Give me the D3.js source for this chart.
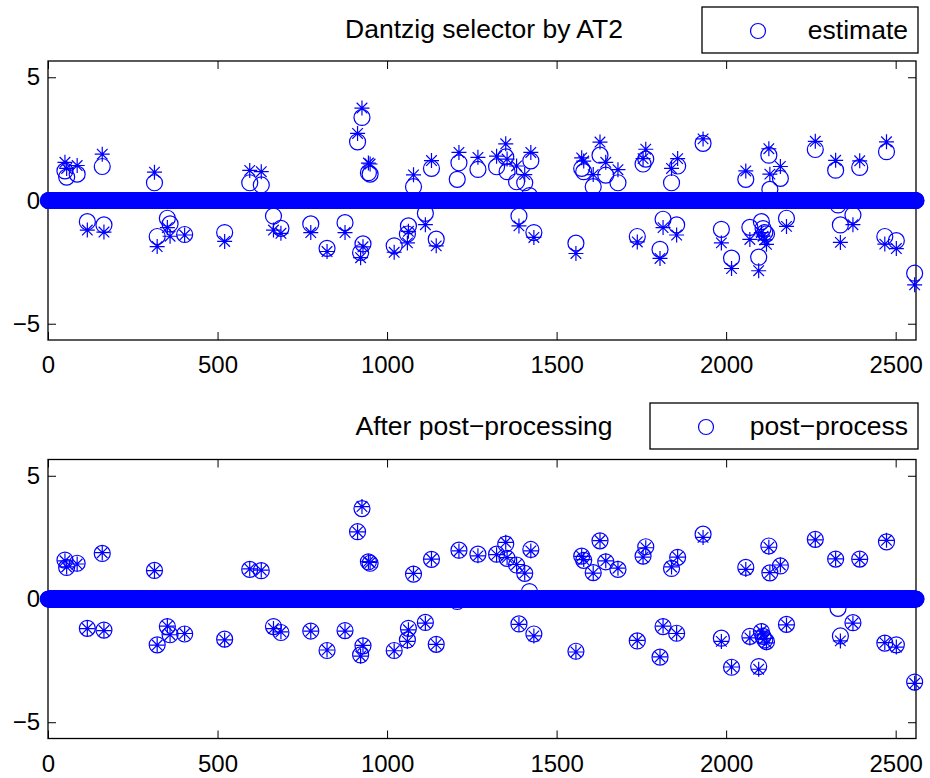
<!DOCTYPE html>
<html>
<head>
<meta charset="utf-8">
<script src="https://d3js.org/d3.v7.min.js"></script>
<style>
body { margin: 0; background: #fff; }
text { font-family: "Liberation Sans", Arial, Helvetica, sans-serif; fill: #000; }
</style>
</head>
<body>
<script>

// signal length (samples are 1..N)
var N = 2560;

// positions of the nonzero entries (true signal and/or estimates)
var support  = [50, 55, 86, 116, 160, 165, 314, 322, 352, 360, 403, 521, 595, 629, 665, 687, 775, 823, 876,
                913, 922, 926, 929, 945, 950, 1021, 1060, 1063, 1078, 1113, 1131, 1145, 1207, 1212, 1268,
                1323, 1350, 1354, 1382, 1389, 1406, 1420, 1424, 1433, 1557, 1574, 1580, 1608, 1628, 1645,
                1681, 1738, 1755, 1763, 1805, 1814, 1839, 1854, 1857, 1932, 1986, 2016, 2058, 2070, 2096,
                2104, 2109, 2114, 2119, 2126, 2129, 2160, 2178, 2263, 2323, 2330, 2337, 2374, 2394, 2468,
                2473, 2502, 2556];

// true sparse signal (asterisks)
var trueVals = [1.55, 1.30, 1.42, -1.20, 1.88, -1.28, 1.15, -1.87, -1.10, -1.45, -1.40, -1.66, 1.22, 1.17, -1.20, -1.33, -1.30, -2.07, -1.30,
                2.72, -2.32, 3.75, -1.88, 1.52, 1.48, -2.10, -1.72, -1.25, 1.04, -0.98, 1.62, -1.84, 0, 1.95, 1.75,
                1.80, 2.30, 1.68, 1.40, -1.03, 1.05, 0, 1.95, -1.50, -2.15, 1.73, 1.60, 1.05, 2.37, 1.55,
                1.25, -1.68, 1.70, 2.08, -2.35, -1.10, 1.30, -1.40, 1.70, 2.50, -1.72, -2.76, 1.20, -1.58, -2.85,
                -1.30, -1.45, -1.60, -1.78, 2.10, 1.07, 1.38, -1.05, 2.40, 1.63, 0, -1.70, -0.98, 1.61, -1.77,
                2.38, -1.95, -3.42];

// Dantzig selector estimate (top panel circles)
var dsEst    = [1.20, 0.95, 1.07, -0.86, 1.38, -0.99, 0.72, -1.46, -0.72, -0.95, -1.38, -1.30, 0.72, 0.63, -0.63, -1.13, -0.95, -1.94, -0.90,
                2.38, -2.11, 3.37, -1.76, 1.13, 1.07, -1.84, -1.36, -1.03, 0.56, -0.52, 1.30, -1.57, 0.86, 1.53, 1.26,
                1.37, 1.77, 1.17, 0.76, -0.63, 0.72, 0.20, 1.61, -1.30, -1.73, 1.30, 1.17, 0.56, 1.84, 1.03,
                0.72, -1.46, 1.48, 1.68, -1.98, -0.76, 0.72, -0.99, 1.40, 2.32, -1.17, -2.34, 0.86, -1.09, -2.30,
                -0.86, -1.14, -1.30, -1.36, 1.84, 0.45, 0.90, -0.72, 2.07, 1.23, -0.18, -0.99, -0.59, 1.34, -1.46,
                1.98, -1.63, -2.95];

// estimate after post-processing (bottom panel circles)
var ppEst    = [1.58, 1.28, 1.45, -1.19, 1.85, -1.26, 1.16, -1.86, -1.12, -1.45, -1.42, -1.63, 1.20, 1.15, -1.12, -1.36, -1.30, -2.09, -1.28,
                2.73, -2.27, 3.67, -1.90, 1.51, 1.45, -2.09, -1.66, -1.19, 1.01, -0.95, 1.61, -1.84, -0.10, 1.98, 1.82,
                1.82, 2.23, 1.65, 1.38, -1.01, 1.04, 0.30, 2.01, -1.42, -2.12, 1.74, 1.57, 1.07, 2.36, 1.51,
                1.20, -1.70, 1.74, 2.12, -2.36, -1.12, 1.24, -1.39, 1.69, 2.63, -1.59, -2.77, 1.28, -1.52, -2.74,
                -1.32, -1.52, -1.66, -1.73, 2.15, 1.06, 1.34, -1.03, 2.42, 1.62, -0.38, -1.50, -0.96, 1.62, -1.79,
                2.32, -1.86, -3.37];

var xTicks = [0, 500, 1000, 1500, 2000, 2500];
var yTicks = [-5, 0, 5];

// expand a sparse list into a full length-N vector
function fullVector(vals) {
  var v = new Array(N).fill(0);
  support.forEach(function(p, i) { v[p - 1] = vals[i]; });
  return v.map(function(d, i) { return {i: i + 1, v: d}; });
}

var xTrue = fullVector(trueVals);
var yMax = 5.66;

var panels = [
  {title: "Dantzig selector by AT2", legend: "estimate", est: fullVector(dsEst),
   top: 61, bottom: 340, titleY: 38, legX: 702, legY: 7, legW: 216},
  {title: "After post\u2212processing", legend: "post\u2212process", est: fullVector(ppEst),
   top: 459.5, bottom: 738.5, titleY: 435, legX: 650, legY: 403, legW: 268}
];

var width = 930, height = 778,
    left = 48, right = 916;

var svg = d3.select("body").append("svg")
    .attr("width", width)
    .attr("height", height);

var blue = "#0000ff";
var star = "M-7.5,0H7.5M0,-7.5V7.5M-5.3,-5.3L5.3,5.3M-5.3,5.3L5.3,-5.3";

panels.forEach(function(p) {
  var x = d3.scaleLinear().domain([0, N]).range([left, right]);
  var y = d3.scaleLinear().domain([-yMax, yMax]).range([p.bottom, p.top]);

  var g = svg.append("g");

  // axes with inward ticks on all four sides
  var ax = [
    {a: d3.axisBottom(x).tickValues(xTicks), t: "translate(0," + p.bottom + ")", lab: true, pad: 16},
    {a: d3.axisTop(x).tickValues(xTicks), t: "translate(0," + p.top + ")", lab: false, pad: 9},
    {a: d3.axisLeft(y).tickValues(yTicks), t: "translate(" + left + ",0)", lab: true, pad: 8},
    {a: d3.axisRight(y).tickValues(yTicks), t: "translate(" + right + ",0)", lab: false, pad: 9}
  ];
  ax.forEach(function(o) {
    o.a.tickSizeInner(-8).tickSizeOuter(0).tickPadding(o.pad)
       .tickFormat(o.lab ? function(d) { return String(d).replace("-", "\u2212"); } : "");
    var ag = g.append("g").attr("transform", o.t).call(o.a);
    ag.select(".domain").remove();
    ag.selectAll("line").attr("stroke", "#000").attr("stroke-width", 1);
    ag.selectAll("text").attr("font-size", 24)
      .attr("font-family", "Liberation Sans, Arial, sans-serif").attr("fill", "#000");
  });

  g.append("rect")
    .attr("x", left).attr("y", p.top)
    .attr("width", right - left).attr("height", p.bottom - p.top)
    .attr("fill", "none").attr("stroke", "#000").attr("stroke-width", 1.3);

  // estimate: circles
  g.append("g").selectAll("circle")
    .data(p.est)
    .enter().append("circle")
      .attr("cx", function(d) { return x(d.i); })
      .attr("cy", function(d) { return y(d.v); })
      .attr("r", 8)
      .attr("fill", "none")
      .attr("stroke", blue)
      .attr("stroke-width", 1.2);

  // true signal: asterisks
  g.append("g").selectAll("path")
    .data(xTrue)
    .enter().append("path")
      .attr("d", star)
      .attr("transform", function(d) { return "translate(" + x(d.i) + "," + y(d.v) + ")"; })
      .attr("fill", "none")
      .attr("stroke", blue)
      .attr("stroke-width", 1.2);

  // title
  g.append("text")
    .attr("x", (left + right) / 2 + 2)
    .attr("y", p.titleY)
    .attr("text-anchor", "middle")
    .attr("font-size", 26.5)
    .text(p.title);

  // legend
  var lg = g.append("g").attr("transform", "translate(" + p.legX + "," + p.legY + ")");
  lg.append("rect")
    .attr("width", p.legW).attr("height", 46)
    .attr("fill", "#fff").attr("stroke", "#000").attr("stroke-width", 1.3);
  lg.append("circle")
    .attr("cx", 56).attr("cy", 24).attr("r", 7.5)
    .attr("fill", "none").attr("stroke", blue).attr("stroke-width", 1.2);
  lg.append("text")
    .attr("x", p.legW - 10).attr("y", 32)
    .attr("text-anchor", "end")
    .attr("font-size", 26.5)
    .text(p.legend);
});

</script>
</body>
</html>
